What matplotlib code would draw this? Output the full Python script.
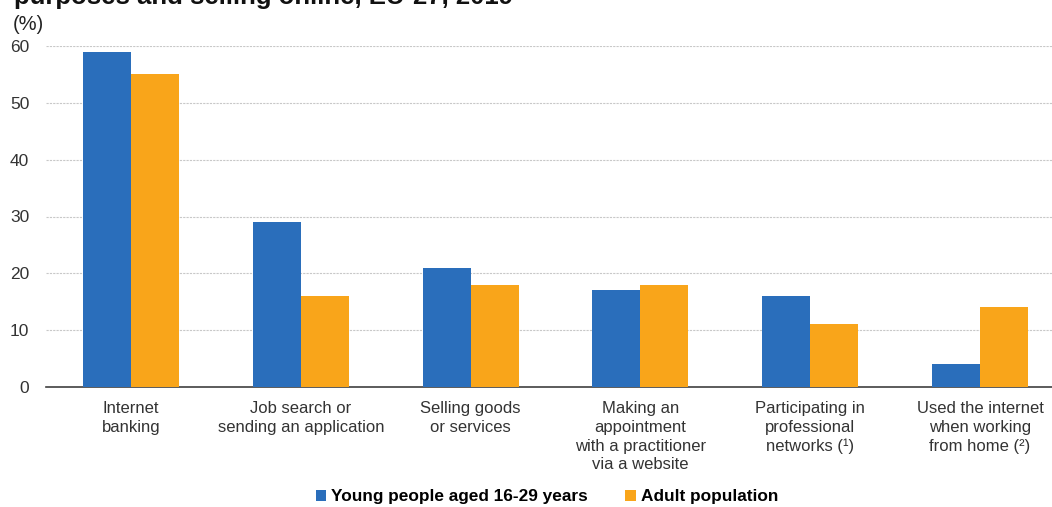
import matplotlib.pyplot as plt
import numpy as np

plt.rcParams['font.family'] = ['Liberation Sans', 'DejaVu Sans']

categories = ["Internet\nbanking", "Job search or\nsending an application", "Selling goods\nor services",
              "Making an\nappointment\nwith a practitioner\nvia a website", "Participating in\nprofessional\nnetworks (\u00b9)",
              "Used the internet\nwhen working\nfrom home (\u00b2)"]
young = [59, 29, 21, 17, 16, 4]
adult = [55, 16, 18, 18, 11, 14]
series_names = ["Young people aged 16-29 years", "Adult population"]

blue = '#2a6ebb'
orange = '#f9a51a'

fig = plt.figure(figsize=(10.52, 5.07), dpi=100)
ax = fig.add_axes([46/1052, 120/507, 1019/1052, 341/507])

x = np.arange(len(categories))
w = 0.283
ax.bar(x - w/2, young, w, color=blue, label=series_names[0], zorder=3)
ax.bar(x + w/2, adult, w, color=orange, label=series_names[1], zorder=3)

ax.set_xlim(-0.5, len(categories) - 0.5)
ax.set_ylim(0, 60)
ax.set_yticks(range(0, 61, 10))
ax.yaxis.grid(True, linestyle=(0, (2, 1)), color='#c8c8c8', linewidth=0.8, zorder=0)
ax.set_xticks(x)
ax.set_xticklabels(categories, fontsize=12, color='#333333', linespacing=1.32)
ax.tick_params(axis='x', length=0, pad=10)
ax.tick_params(axis='y', length=0, labelsize=12.5, labelcolor='#333333', pad=12)
for s in ['left', 'right', 'top']:
    ax.spines[s].set_visible(False)
ax.spines['bottom'].set_color('#404040')
ax.spines['bottom'].set_linewidth(1.2)

fig.text(13/1052, 1 - 24/507, "(%)", fontsize=14.5, va='center', color='#222222')
fig.text(14/1052, 1 - 4/507, "purposes and selling online, EU-27, 2019", fontsize=18.5,
         fontweight='bold', va='baseline', color='#111111')

ax.legend(loc='center', bbox_to_anchor=(547/1052, 1 - 497/507), bbox_transform=fig.transFigure,
          ncol=2, frameon=False, prop={'weight': 'bold', 'size': 12.4}, handlelength=0.6,
          handleheight=0.6, handletextpad=0.3, columnspacing=2.15, borderpad=0, borderaxespad=0)

fig.savefig('out.png', dpi=100)
